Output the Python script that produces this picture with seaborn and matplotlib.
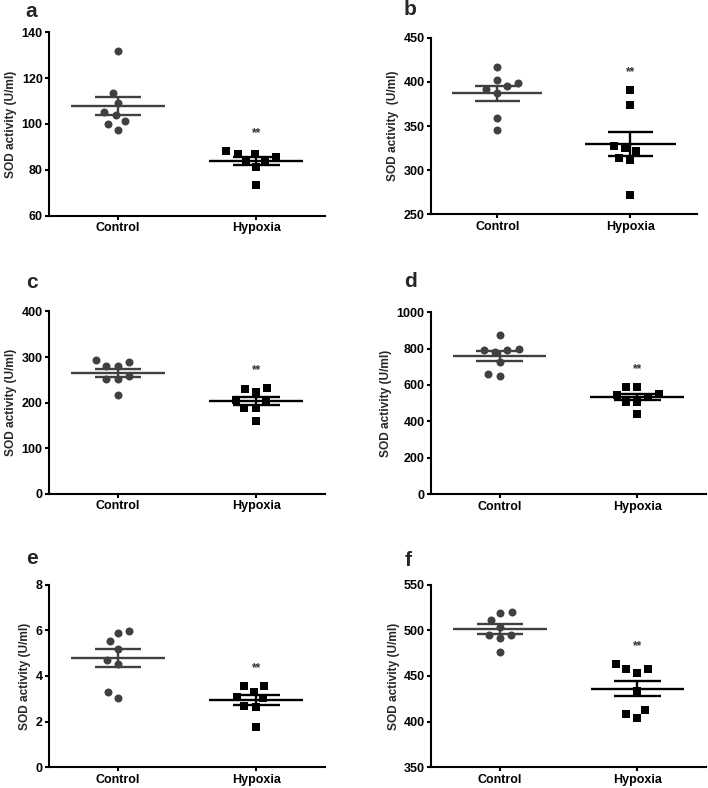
import numpy as np
import pandas as pd
import matplotlib
matplotlib.use("Agg")
import matplotlib.pyplot as plt
from matplotlib.markers import MarkerStyle
from matplotlib.transforms import Affine2D
import seaborn as sns

# groups and per-panel values (U/ml)
groups = ["Control", "Hypoxia"]
letters = ["a", "b", "c", "d", "e", "f"]

ctrl_a = [132, 113.6, 109.2, 105.3, 104.1, 101.3, 100, 97.5]
hyp_a = [85.8, 88, 83.6, 87, 81.2, 87, 84.5, 73.4]
ctrl_b = [417.3, 401.9, 395.1, 398.5, 392.1, 387.6, 359.4, 345.1]
hyp_b = [391.4, 374.4, 324.8, 327, 322, 313.9, 311.3, 271.8]
ctrl_c = [288.3, 292.7, 280.3, 280.3, 252.6, 252.6, 257.7, 217.5]
hyp_c = [231.4, 230, 223.4, 201.5, 189, 189, 205, 159.1]
ctrl_d = [873, 797, 782, 790, 794, 725, 650, 661]
hyp_d = [591, 591, 549, 545, 533, 506, 506, 443]
ctrl_e = [5.99, 5.89, 5.54, 5.18, 4.70, 4.54, 3.29, 3.03]
hyp_e = [3.56, 3.55, 3.32, 3.07, 3.03, 2.68, 2.65, 1.76]
ctrl_f = [520.5, 519.4, 511.3, 503.7, 494.9, 494.9, 491.2, 476.2]
hyp_f = [462.8, 458, 457.3, 452.9, 433.2, 413.1, 408.7, 404.3]

yticks_a = [60, 80, 100, 120, 140]
yticks_b = [250, 300, 350, 400, 450]
yticks_c = [0, 100, 200, 300, 400]
yticks_d = [0, 200, 400, 600, 800, 1000]
yticks_e = [0, 2, 4, 6, 8]
yticks_f = [350, 400, 450, 500, 550]

ylabels = ["SOD activity (U/ml)", "SOD activity  (U/ml)", "SOD activity (U/ml)",
           "SOD activity (U/ml)", "SOD activity (U/ml)", "SOD activity (U/ml)"]

panels = [(ctrl_a, hyp_a, yticks_a), (ctrl_b, hyp_b, yticks_b),
          (ctrl_c, hyp_c, yticks_c), (ctrl_d, hyp_d, yticks_d),
          (ctrl_e, hyp_e, yticks_e), (ctrl_f, hyp_f, yticks_f)]

# axes boxes in figure fractions [left, bottom, width, height]
boxes = [[0.0692, 0.7263, 0.390, 0.2327], [0.6083, 0.7280, 0.376, 0.2240],
         [0.0692, 0.3731, 0.390, 0.2318], [0.6083, 0.3727, 0.389, 0.2313],
         [0.0692, 0.0263, 0.390, 0.2317], [0.6092, 0.0263, 0.388, 0.2317]]
letter_pos = [(31, 17), (410, 15), (32, 288), (410, 287), (32, 564), (408, 566)]

sns.set_style("ticks")
plt.rcParams["font.family"] = ["Liberation Sans", "DejaVu Sans"]
plt.rcParams["font.weight"] = "bold"

W, H = 708, 788
fig = plt.figure(figsize=(W / 100, H / 100), dpi=100)

colors = {"Control": "#404040", "Hypoxia": "#000000"}
# swarm spacing follows the nominal size; the drawn marker is shrunk
markers = {"Control": MarkerStyle("o", transform=Affine2D().scale(0.72)),
           "Hypoxia": MarkerStyle("s", transform=Affine2D().scale(0.7))}

for k, (ctrl, hyp, yt) in enumerate(panels):
    ax = fig.add_axes(boxes[k])
    df = pd.DataFrame({"group": ["Control"] * len(ctrl) + ["Hypoxia"] * len(hyp),
                       "value": ctrl + hyp})
    for g in groups:
        sns.swarmplot(data=df[df["group"] == g], x="group", y="value", order=groups,
                      color=colors[g], marker=markers[g], size=8, linewidth=0,
                      ax=ax, zorder=2)
    # mean +/- SEM
    for i, g in enumerate(groups):
        vals = np.array(df.loc[df["group"] == g, "value"])
        m = vals.mean()
        sem = vals.std(ddof=1) / np.sqrt(len(vals))
        c = colors[g]
        ax.hlines(m, i - 0.34, i + 0.34, color=c, lw=1.7, zorder=3)
        ax.hlines([m - sem, m + sem], i - 0.17, i + 0.17, color=c, lw=1.7, zorder=3)
        ax.vlines(i, m - sem, m + sem, color=c, lw=1.7, zorder=3)
    rng = yt[-1] - yt[0]
    ax.text(1, max(hyp) + 0.065 * rng, "**", ha="center", va="bottom",
            fontsize=8.5, color="#333333")
    ax.set_xlim(-0.5, 1.5)
    ax.set_ylim(yt[0], yt[-1])
    ax.set_yticks(yt)
    ax.set_yticklabels([str(t) for t in yt])
    ax.set_xlabel("")
    ax.set_ylabel(ylabels[k], fontsize=8.6, fontweight="bold", labelpad=3)
    for s in ["top", "right"]:
        ax.spines[s].set_visible(False)
    for s in ["left", "bottom"]:
        ax.spines[s].set_linewidth(1.5)
        ax.spines[s].set_color("black")
    ax.tick_params(axis="both", direction="out", length=3, width=1.5,
                   labelsize=9, pad=1.5, colors="black")
    for lab in ax.get_xticklabels() + ax.get_yticklabels():
        lab.set_fontweight("bold")
    lx, ly = letter_pos[k]
    fig.text(lx / W, 1 - ly / H, letters[k], ha="center", va="baseline",
             fontsize=15, fontweight="bold")

fig.savefig("out.png", dpi=100)
